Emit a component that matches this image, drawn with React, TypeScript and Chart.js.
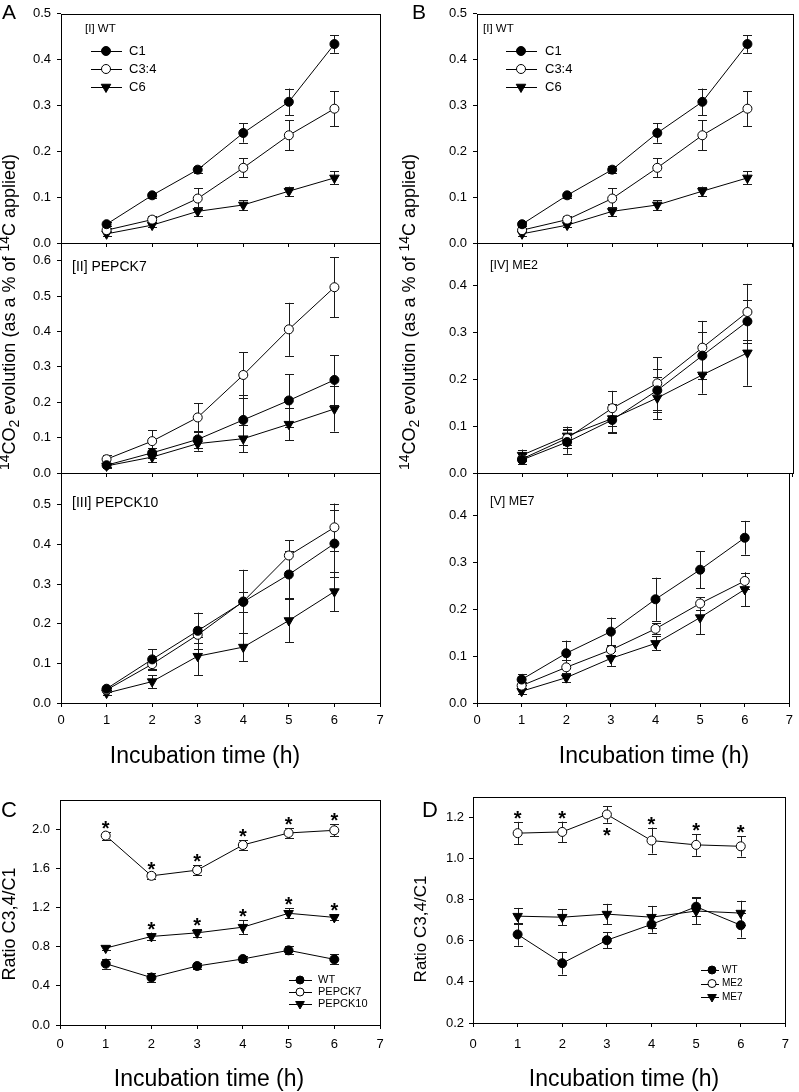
import React, { useEffect, useRef } from 'react';
import { Chart, registerables } from 'chart.js';

Chart.register(...registerables);

const FONT = '"Liberation Sans", Arial, Helvetica, sans-serif';
Chart.defaults.font.family = FONT;
Chart.defaults.color = '#000';

const PAGE_W = 799;
const PAGE_H = 1092;

// ---------- data ----------
const hours = [1, 2, 3, 4, 5, 6];

// [I] WT
const wtC1 = [0.041, 0.104, 0.160, 0.240, 0.308, 0.434];
const wtC1Err = [0.004, 0.005, 0.008, 0.021, 0.029, 0.019];
const wtC34 = [0.028, 0.051, 0.097, 0.164, 0.235, 0.293];
const wtC34Err = [0.004, 0.007, 0.022, 0.021, 0.033, 0.038];
const wtC6 = [0.020, 0.039, 0.069, 0.083, 0.113, 0.142];
const wtC6Err = [0.005, 0.005, 0.010, 0.010, 0.010, 0.014];

// [II] PEPCK7
const pep7C1 = [0.022, 0.057, 0.095, 0.150, 0.205, 0.263];
const pep7C1Err = [0.005, 0.015, 0.025, 0.070, 0.074, 0.070];
const pep7C34 = [0.039, 0.090, 0.157, 0.277, 0.406, 0.525];
const pep7C34Err = [0.012, 0.031, 0.040, 0.065, 0.075, 0.085];
const pep7C6 = [0.020, 0.045, 0.083, 0.097, 0.138, 0.181];
const pep7C6Err = [0.005, 0.015, 0.020, 0.038, 0.045, 0.064];

// [III] PEPCK10
const pep10C1 = [0.036, 0.110, 0.182, 0.255, 0.324, 0.402];
const pep10C1Err = [0.004, 0.026, 0.046, 0.025, 0.060, 0.085];
const pep10C34 = [0.033, 0.098, 0.172, 0.256, 0.372, 0.443];
const pep10C34Err = [0.004, 0.012, 0.020, 0.080, 0.038, 0.060];
const pep10C6 = [0.025, 0.054, 0.118, 0.141, 0.208, 0.281];
const pep10C6Err = [0.004, 0.016, 0.048, 0.035, 0.055, 0.050];

// [IV] ME2
const me2C1 = [0.028, 0.066, 0.113, 0.176, 0.250, 0.323];
const me2C1Err = [0.008, 0.025, 0.025, 0.045, 0.050, 0.045];
const me2C34 = [0.030, 0.074, 0.138, 0.191, 0.267, 0.343];
const me2C34Err = [0.010, 0.020, 0.037, 0.056, 0.057, 0.060];
const me2C6 = [0.038, 0.079, 0.116, 0.160, 0.209, 0.256];
const me2C6Err = [0.012, 0.020, 0.030, 0.045, 0.040, 0.070];

// [V] ME7
const me7C1 = [0.050, 0.106, 0.152, 0.221, 0.284, 0.352];
const me7C1Err = [0.012, 0.027, 0.030, 0.046, 0.039, 0.036];
const me7C34 = [0.037, 0.076, 0.113, 0.158, 0.212, 0.260];
const me7C34Err = [0.008, 0.015, 0.010, 0.012, 0.013, 0.018];
const me7C6 = [0.025, 0.054, 0.095, 0.127, 0.182, 0.242];
const me7C6Err = [0.006, 0.010, 0.016, 0.015, 0.035, 0.036];

// Ratio C3,4/C1 (panel C)
const ratioWT = [0.627, 0.485, 0.603, 0.675, 0.763, 0.671];
const ratioWTErr = [0.050, 0.050, 0.030, 0.030, 0.040, 0.050];
const ratioPEPCK7 = [1.936, 1.525, 1.583, 1.840, 1.963, 1.990];
const ratioPEPCK7Err = [0.040, 0.030, 0.050, 0.050, 0.050, 0.060];
const ratioPEPCK10 = [0.786, 0.905, 0.942, 1.000, 1.142, 1.100];
const ratioPEPCK10Err = [0.020, 0.040, 0.040, 0.070, 0.050, 0.030];
const starsPEPCK7 = ['above', 'above', 'above', 'above', 'above', 'above'];
const starsPEPCK10 = ['', 'above', 'above', 'above', 'above', 'above'];

// Ratio C3,4/C1 (panel D)
const ratioWTd = [0.631, 0.491, 0.603, 0.680, 0.766, 0.676];
const ratioWTdErr = [0.055, 0.055, 0.040, 0.040, 0.045, 0.060];
const ratioME2 = [1.124, 1.130, 1.215, 1.088, 1.067, 1.060];
const ratioME2Err = [0.055, 0.050, 0.040, 0.063, 0.053, 0.050];
const ratioME7 = [0.720, 0.715, 0.730, 0.715, 0.745, 0.735];
const ratioME7Err = [0.040, 0.040, 0.050, 0.055, 0.065, 0.060];
const starsME2 = ['above', 'above', 'below', 'above', 'above', 'above'];

// ---------- helpers ----------
type Kind = 'filled' | 'open' | 'tri';

function series(label: string, kind: Kind, values: number[], errors: number[], stars?: string[]) {
  return {
    label,
    kind,
    errors,
    stars: stars || [],
    data: hours.map((h, i) => ({ x: h, y: values[i] })),
    borderColor: '#000',
    borderWidth: 1,
    backgroundColor: kind === 'open' ? '#fff' : '#000',
    pointStyle: kind === 'tri' ? 'triangle' : 'circle',
    pointRotation: kind === 'tri' ? 180 : 0,
    pointRadius: kind === 'tri' ? 5.5 : 4.5,
    pointBackgroundColor: kind === 'open' ? '#fff' : '#000',
    pointBorderColor: '#000',
    pointBorderWidth: 1,
    fill: false,
    tension: 0,
    clip: false,
  };
}

function drawMarker(ctx: CanvasRenderingContext2D, kind: Kind, x: number, y: number, r: number) {
  ctx.save();
  ctx.beginPath();
  if (kind === 'tri') {
    let rad = Math.PI;
    ctx.moveTo(x + Math.sin(rad) * r, y - Math.cos(rad) * r);
    rad += (2 * Math.PI) / 3;
    ctx.lineTo(x + Math.sin(rad) * r, y - Math.cos(rad) * r);
    rad += (2 * Math.PI) / 3;
    ctx.lineTo(x + Math.sin(rad) * r, y - Math.cos(rad) * r);
    ctx.closePath();
  } else {
    ctx.arc(x, y, r, 0, Math.PI * 2);
  }
  ctx.fillStyle = kind === 'open' ? '#fff' : '#000';
  ctx.fill();
  ctx.lineWidth = 1;
  ctx.strokeStyle = '#000';
  ctx.stroke();
  ctx.restore();
}

interface Panel {
  key: string;
  left: number; right: number; top: number; bottom: number;
  yMin: number; yMax: number; yStep: number;
  xLabels: boolean; xPad: number; yPad: number;
  datasets: any[];
  tag?: { text: string; x: number; y: number; size: number };
  legend?: { x: number; y: number; dy: number; len: number; mx: number; size: number; tx: number; r: number };
}

const YW = 45;
const XH = 30;

function makeDecor(p: Panel) {
  return {
    id: 'decor_' + p.key,
    beforeDatasetsDraw(chart: any) {
      const ctx: CanvasRenderingContext2D = chart.ctx;
      const a = chart.chartArea;
      ctx.save();
      ctx.strokeStyle = '#000';
      ctx.lineWidth = 1;
      ctx.strokeRect(Math.round(a.left) + 0.5, Math.round(a.top) + 0.5, Math.round(a.right - a.left), Math.round(a.bottom - a.top));
      const xs = chart.scales.x;
      const ys = chart.scales.y;
      ctx.strokeStyle = '#1a1a1a';
      chart.data.datasets.forEach((d: any) => {
        d.data.forEach((pt: any, i: number) => {
          const e = d.errors[i];
          if (!e) return;
          const x = Math.round(xs.getPixelForValue(pt.x)) + 0.5;
          const y1 = ys.getPixelForValue(pt.y + e);
          const y2 = ys.getPixelForValue(pt.y - e);
          ctx.beginPath();
          ctx.moveTo(x, y1);
          ctx.lineTo(x, y2);
          ctx.moveTo(x - 4.5, Math.round(y1) + 0.5);
          ctx.lineTo(x + 4.5, Math.round(y1) + 0.5);
          ctx.moveTo(x - 4.5, Math.round(y2) + 0.5);
          ctx.lineTo(x + 4.5, Math.round(y2) + 0.5);
          ctx.stroke();
        });
      });
      ctx.restore();
    },
    afterDatasetsDraw(chart: any) {
      const ctx: CanvasRenderingContext2D = chart.ctx;
      const xs = chart.scales.x;
      const ys = chart.scales.y;
      ctx.save();
      ctx.fillStyle = '#000';
      // significance stars
      ctx.font = 'bold 20px ' + FONT;
      ctx.textAlign = 'center';
      ctx.textBaseline = 'alphabetic';
      chart.data.datasets.forEach((d: any) => {
        d.data.forEach((pt: any, i: number) => {
          const s = d.stars[i];
          if (!s) return;
          const x = xs.getPixelForValue(pt.x);
          const e = d.errors[i] || 0;
          if (s === 'above') {
            const yTop = ys.getPixelForValue(pt.y + e);
            ctx.fillText('*', x, yTop + 3);
          } else {
            const yBot = ys.getPixelForValue(pt.y - e);
            ctx.fillText('*', x, yBot + 19);
          }
        });
      });
      // panel tag
      if (p.tag) {
        ctx.font = p.tag.size + 'px ' + FONT;
        ctx.textAlign = 'left';
        ctx.textBaseline = 'middle';
        ctx.fillText(p.tag.text, p.tag.x, p.tag.y);
      }
      // legend
      if (p.legend) {
        const L = p.legend;
        ctx.font = L.size + 'px ' + FONT;
        ctx.textAlign = 'left';
        ctx.textBaseline = 'middle';
        chart.data.datasets.forEach((d: any, i: number) => {
          const y = L.y + i * L.dy;
          ctx.beginPath();
          ctx.strokeStyle = '#000';
          ctx.lineWidth = 1;
          ctx.moveTo(L.x, Math.round(y) + 0.5);
          ctx.lineTo(L.x + L.len, Math.round(y) + 0.5);
          ctx.stroke();
          drawMarker(ctx, d.kind, L.mx, y, d.kind === 'tri' ? L.r + 1 : L.r);
          ctx.fillStyle = '#000';
          ctx.fillText(d.label, L.tx, y);
        });
      }
      ctx.restore();
    },
  };
}

function buildConfig(p: Panel): any {
  return {
    type: 'line',
    data: { datasets: p.datasets },
    options: {
      responsive: false,
      maintainAspectRatio: false,
      animation: false,
      events: [],
      layout: {
        padding: { left: p.left - YW, top: p.top, right: PAGE_W - p.right, bottom: PAGE_H - p.bottom - XH },
      },
      plugins: { legend: { display: false }, tooltip: { enabled: false }, title: { display: false } },
      scales: {
        x: {
          type: 'linear',
          min: 0,
          max: 7,
          afterFit: (s: any) => { s.height = XH; },
          ticks: {
            stepSize: 1,
            display: p.xLabels,
            autoSkip: false,
            maxRotation: 0,
            padding: p.xPad,
            font: { size: 13 },
            color: '#000',
            callback: (v: any) => String(v),
          },
          grid: { display: true, drawOnChartArea: false, drawTicks: true, tickLength: 4, color: '#000', lineWidth: 1 },
          border: { display: false },
        },
        y: {
          type: 'linear',
          min: p.yMin,
          max: p.yMax,
          afterFit: (s: any) => { s.width = YW; },
          ticks: {
            stepSize: p.yStep,
            includeBounds: false,
            autoSkip: false,
            padding: p.yPad,
            font: { size: 13 },
            color: '#000',
            callback: (v: any) => Number(v).toFixed(1),
          },
          grid: { display: true, drawOnChartArea: false, drawTicks: true, tickLength: 4, color: '#000', lineWidth: 1 },
          border: { display: false },
        },
      },
    },
    plugins: [makeDecor(p)],
  };
}

const legendA = { x: 91, y: 51, dy: 18, len: 31, mx: 106, size: 13, tx: 129, r: 4.5 };
const legendB = { x: 506, y: 51, dy: 18, len: 31, mx: 521, size: 13, tx: 545, r: 4.5 };

const panels: Panel[] = [
  {
    key: 'A1', left: 61, right: 380, top: 13, bottom: 243, yMin: 0, yMax: 0.5, yStep: 0.1, xLabels: false, xPad: 6, yPad: 6,
    datasets: [series('C1', 'filled', wtC1, wtC1Err), series('C3:4', 'open', wtC34, wtC34Err), series('C6', 'tri', wtC6, wtC6Err)],
    tag: { text: '[I] WT', x: 85, y: 29, size: 11.5 },
    legend: legendA,
  },
  {
    key: 'A2', left: 61, right: 380, top: 243, bottom: 473, yMin: 0, yMax: 0.65, yStep: 0.1, xLabels: false, xPad: 6, yPad: 6,
    datasets: [series('C1', 'filled', pep7C1, pep7C1Err), series('C3:4', 'open', pep7C34, pep7C34Err), series('C6', 'tri', pep7C6, pep7C6Err)],
    tag: { text: '[II] PEPCK7', x: 72, y: 267, size: 14 },
  },
  {
    key: 'A3', left: 61, right: 380, top: 473, bottom: 703, yMin: 0, yMax: 0.58, yStep: 0.1, xLabels: true, xPad: 6, yPad: 6,
    datasets: [series('C1', 'filled', pep10C1, pep10C1Err), series('C3:4', 'open', pep10C34, pep10C34Err), series('C6', 'tri', pep10C6, pep10C6Err)],
    tag: { text: '[III] PEPCK10', x: 72, y: 503, size: 14 },
  },
  {
    key: 'B1', left: 477, right: 795, top: 13, bottom: 243, yMin: 0, yMax: 0.5, yStep: 0.1, xLabels: false, xPad: 6, yPad: 6,
    datasets: [series('C1', 'filled', wtC1, wtC1Err), series('C3:4', 'open', wtC34, wtC34Err), series('C6', 'tri', wtC6, wtC6Err)],
    tag: { text: '[I] WT', x: 483, y: 29, size: 11.5 },
    legend: legendB,
  },
  {
    key: 'B4', left: 477, right: 795, top: 243, bottom: 473, yMin: 0, yMax: 0.49, yStep: 0.1, xLabels: false, xPad: 6, yPad: 6,
    datasets: [series('C1', 'filled', me2C1, me2C1Err), series('C3:4', 'open', me2C34, me2C34Err), series('C6', 'tri', me2C6, me2C6Err)],
    tag: { text: '[IV] ME2', x: 490, y: 266, size: 12.5 },
  },
  {
    key: 'B5', left: 477, right: 795, top: 473, bottom: 703, yMin: 0, yMax: 0.49, yStep: 0.1, xLabels: true, xPad: 6, yPad: 6,
    datasets: [series('C1', 'filled', me7C1, me7C1Err), series('C3:4', 'open', me7C34, me7C34Err), series('C6', 'tri', me7C6, me7C6Err)],
    tag: { text: '[V] ME7', x: 490, y: 502, size: 12.5 },
  },
  {
    key: 'C', left: 60, right: 380, top: 800, bottom: 1025, yMin: 0, yMax: 2.3, yStep: 0.4, xLabels: true, xPad: 8, yPad: 6,
    datasets: [
      series('WT', 'filled', ratioWT, ratioWTErr),
      series('PEPCK7', 'open', ratioPEPCK7, ratioPEPCK7Err, starsPEPCK7),
      series('PEPCK10', 'tri', ratioPEPCK10, ratioPEPCK10Err, starsPEPCK10),
    ],
    legend: { x: 289, y: 980, dy: 12, len: 23, mx: 300, size: 11, tx: 318, r: 4 },
  },
  {
    key: 'D', left: 473, right: 794, top: 797, bottom: 1023, yMin: 0.2, yMax: 1.3, yStep: 0.2, xLabels: true, xPad: 10, yPad: 5,
    datasets: [
      series('WT', 'filled', ratioWTd, ratioWTdErr),
      series('ME2', 'open', ratioME2, ratioME2Err, starsME2),
      series('ME7', 'tri', ratioME7, ratioME7Err),
    ],
    legend: { x: 701, y: 970, dy: 13.5, len: 18, mx: 712, size: 10, tx: 722, r: 4 },
  },
];

function PanelChart({ p }: { p: Panel }) {
  const ref = useRef<HTMLCanvasElement>(null);
  useEffect(() => {
    if (!ref.current) return;
    const c = new Chart(ref.current, buildConfig(p));
    return () => c.destroy();
  }, [p]);
  return (
    <canvas
      ref={ref}
      width={PAGE_W}
      height={PAGE_H}
      style={{ position: 'absolute', left: 0, top: 0, width: PAGE_W, height: PAGE_H }}
    />
  );
}

const supStyle: React.CSSProperties = { fontSize: '0.78em', position: 'relative', top: '-0.45em' };
const subStyle: React.CSSProperties = { fontSize: '0.78em', position: 'relative', top: '0.3em' };

function RotTitle({ cx, cy, size, children }: { cx: number; cy: number; size: number; children: React.ReactNode }) {
  return (
    <div
      style={{
        position: 'absolute', left: cx - 200, top: cy - 11, width: 400, height: 22, lineHeight: '22px',
        fontSize: size, textAlign: 'center', whiteSpace: 'nowrap', transform: 'rotate(-90deg)', color: '#000',
      }}
    >
      {children}
    </div>
  );
}

function XTitle({ cx, cy, text }: { cx: number; cy: number; text: string }) {
  return (
    <div
      style={{
        position: 'absolute', left: cx - 150, top: cy - 13, width: 300, height: 26, lineHeight: '26px',
        fontSize: 23, textAlign: 'center', whiteSpace: 'nowrap', color: '#000',
      }}
    >
      {text}
    </div>
  );
}

function Letter({ x, y, size, text }: { x: number; y: number; size: number; text: string }) {
  return (
    <div style={{ position: 'absolute', left: x, top: y, fontSize: size, lineHeight: 1, color: '#000' }}>{text}</div>
  );
}

const xTitle = 'Incubation time (h)';

function Evolution() {
  return (
    <>
      <span style={supStyle}>14</span>CO<span style={subStyle}>2</span> evolution (as a % of <span style={supStyle}>14</span>C applied)
    </>
  );
}

export default function App() {
  return (
    <div
      style={{
        position: 'absolute', left: 0, top: 0, width: PAGE_W, height: PAGE_H, background: '#fff',
        overflow: 'hidden', fontFamily: FONT,
      }}
    >
      {panels.map((p) => (
        <PanelChart key={p.key} p={p} />
      ))}
      <Letter x={2} y={1} size={21} text="A" />
      <Letter x={412} y={1} size={21} text="B" />
      <Letter x={1} y={799} size={22} text="C" />
      <Letter x={422} y={799} size={22} text="D" />
      <RotTitle cx={8.5} cy={312} size={18}><Evolution /></RotTitle>
      <RotTitle cx={408.5} cy={312} size={18}><Evolution /></RotTitle>
      <RotTitle cx={8.7} cy={924} size={18}>Ratio C3,4/C1</RotTitle>
      <RotTitle cx={420.5} cy={929} size={17}>Ratio C3,4/C1</RotTitle>
      <XTitle cx={205} cy={755} text={xTitle} />
      <XTitle cx={654} cy={755} text={xTitle} />
      <XTitle cx={209} cy={1078} text={xTitle} />
      <XTitle cx={624} cy={1078} text={xTitle} />
    </div>
  );
}
